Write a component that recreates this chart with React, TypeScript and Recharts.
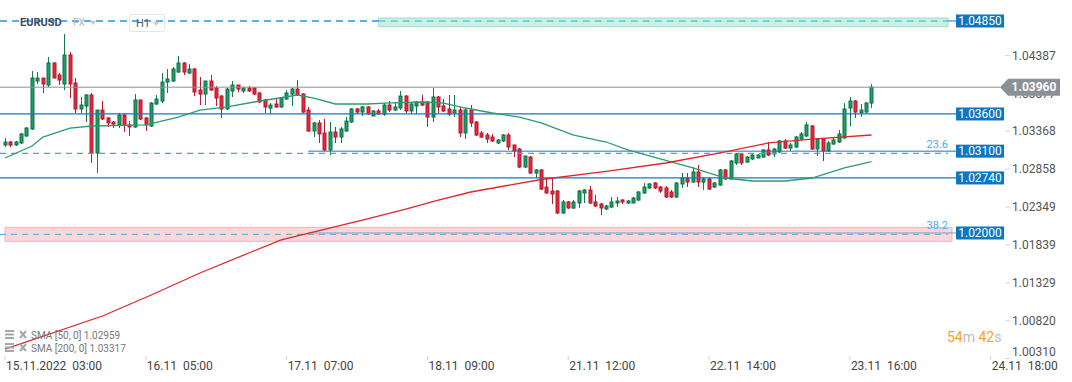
import React from 'react';
import { ComposedChart, Bar, Line, XAxis, YAxis, ReferenceLine, ReferenceArea } from 'recharts';

// ---- Candle data (EURUSD H1), index 0 = 15.11.2022 03:00 ----
const opens = [
  1.03183, 1.03223, 1.03183, 1.03210, 1.03304, 1.03398, 1.04043, 1.04083, 1.03989, 1.04285,
  1.04124, 1.04003, 1.04393, 1.04016, 1.03667, 1.03707, 1.03855, 1.03075, 1.03653, 1.03546,
  1.03492, 1.03452, 1.03586, 1.03452, 1.03425, 1.03788, 1.03546, 1.03438, 1.03734, 1.03774,
  1.04029, 1.04043, 1.04164, 1.04285, 1.04150, 1.04204, 1.03922, 1.03868, 1.04043, 1.03949,
  1.03841, 1.03667, 1.03909, 1.03989, 1.03909, 1.03949, 1.03949, 1.03882, 1.03788, 1.03680,
  1.03734, 1.03694, 1.03801, 1.03868, 1.03935, 1.03868, 1.03653, 1.03371, 1.03479, 1.03344,
  1.03116, 1.03357, 1.03290, 1.03371, 1.03492, 1.03667, 1.03626, 1.03694, 1.03573, 1.03640,
  1.03600, 1.03720, 1.03653, 1.03680, 1.03841, 1.03640, 1.03707, 1.03761, 1.03761, 1.03559,
  1.03828, 1.03707, 1.03667, 1.03613, 1.03653, 1.03344, 1.03653, 1.03492, 1.03344, 1.03317,
  1.03290, 1.03210, 1.03237, 1.03317, 1.03183, 1.03129, 1.02887, 1.03021, 1.02806, 1.02847,
  1.02618, 1.02564, 1.02564, 1.02269, 1.02417, 1.02336, 1.02403, 1.02538, 1.02578, 1.02417,
  1.02390, 1.02322, 1.02349, 1.02403, 1.02443, 1.02403, 1.02403, 1.02443, 1.02538, 1.02605,
  1.02672, 1.02618, 1.02605, 1.02551, 1.02484, 1.02659, 1.02739, 1.02685, 1.02820, 1.02685,
  1.02726, 1.02618, 1.02645, 1.02847, 1.02726, 1.02941, 1.03062, 1.02954, 1.02995, 1.03008,
  1.03021, 1.03116, 1.03062, 1.03089, 1.03237, 1.03142, 1.03156, 1.03263, 1.03304, 1.03438,
  1.03129, 1.03263, 1.03102, 1.03196, 1.03223, 1.03277, 1.03680, 1.03774, 1.03613, 1.03626,
  1.03747,
];
const highs = [
  1.03277, 1.03237, 1.03237, 1.03344, 1.03425, 1.04177, 1.04164, 1.04083, 1.04366, 1.04298,
  1.04150, 1.04675, 1.04433, 1.04083, 1.03828, 1.03868, 1.03882, 1.03653, 1.03774, 1.03559,
  1.03505, 1.03613, 1.03613, 1.03505, 1.03868, 1.03788, 1.03559, 1.03761, 1.03855, 1.04150,
  1.04204, 1.04231, 1.04379, 1.04298, 1.04272, 1.04218, 1.04097, 1.04043, 1.04124, 1.03976,
  1.03855, 1.03949, 1.04043, 1.03989, 1.03962, 1.03976, 1.03962, 1.03895, 1.03801, 1.03747,
  1.03814, 1.03828, 1.03922, 1.03949, 1.04056, 1.03882, 1.03694, 1.03492, 1.03519, 1.03532,
  1.03492, 1.03425, 1.03425, 1.03559, 1.03680, 1.03680, 1.03707, 1.03707, 1.03653, 1.03667,
  1.03747, 1.03774, 1.03761, 1.03909, 1.03855, 1.03761, 1.03774, 1.03855, 1.03774, 1.03949,
  1.03841, 1.03801, 1.03855, 1.03855, 1.03694, 1.03680, 1.03720, 1.03505, 1.03371, 1.03344,
  1.03331, 1.03263, 1.03331, 1.03344, 1.03183, 1.03142, 1.03035, 1.03035, 1.02860, 1.02860,
  1.02739, 1.02739, 1.02578, 1.02443, 1.02430, 1.02443, 1.02578, 1.02591, 1.02632, 1.02511,
  1.02403, 1.02376, 1.02484, 1.02484, 1.02457, 1.02443, 1.02484, 1.02564, 1.02672, 1.02672,
  1.02685, 1.02632, 1.02632, 1.02578, 1.02685, 1.02806, 1.02806, 1.02887, 1.02914, 1.02753,
  1.02753, 1.02685, 1.02860, 1.02860, 1.02981, 1.03075, 1.03075, 1.03035, 1.03062, 1.03062,
  1.03129, 1.03223, 1.03142, 1.03250, 1.03263, 1.03210, 1.03304, 1.03357, 1.03492, 1.03452,
  1.03277, 1.03277, 1.03237, 1.03290, 1.03384, 1.03747, 1.03828, 1.03788, 1.03734, 1.03761,
  1.04003,
];
const lows = [
  1.03156, 1.03156, 1.03169, 1.03196, 1.03290, 1.03384, 1.04003, 1.03882, 1.03962, 1.04083,
  1.03989, 1.03922, 1.03814, 1.03613, 1.03613, 1.03492, 1.02941, 1.02806, 1.03519, 1.03425,
  1.03411, 1.03411, 1.03357, 1.03304, 1.03411, 1.03519, 1.03371, 1.03425, 1.03720, 1.03747,
  1.03882, 1.04029, 1.04150, 1.04124, 1.04137, 1.03841, 1.03720, 1.03720, 1.03909, 1.03707,
  1.03546, 1.03653, 1.03828, 1.03895, 1.03882, 1.03895, 1.03855, 1.03747, 1.03613, 1.03600,
  1.03680, 1.03680, 1.03788, 1.03707, 1.03841, 1.03613, 1.03357, 1.03290, 1.03210, 1.03102,
  1.03048, 1.03210, 1.03210, 1.03357, 1.03479, 1.03600, 1.03573, 1.03586, 1.03573, 1.03586,
  1.03573, 1.03626, 1.03640, 1.03653, 1.03613, 1.03600, 1.03600, 1.03707, 1.03425, 1.03492,
  1.03613, 1.03626, 1.03573, 1.03559, 1.03290, 1.03263, 1.03425, 1.03304, 1.03277, 1.03210,
  1.03223, 1.03196, 1.03223, 1.03116, 1.03021, 1.02874, 1.02874, 1.02793, 1.02739, 1.02578,
  1.02524, 1.02390, 1.02255, 1.02255, 1.02322, 1.02322, 1.02336, 1.02403, 1.02390, 1.02349,
  1.02242, 1.02309, 1.02336, 1.02349, 1.02390, 1.02390, 1.02403, 1.02430, 1.02524, 1.02591,
  1.02591, 1.02538, 1.02470, 1.02470, 1.02470, 1.02605, 1.02618, 1.02672, 1.02618, 1.02578,
  1.02578, 1.02605, 1.02632, 1.02712, 1.02712, 1.02914, 1.02914, 1.02941, 1.02981, 1.03008,
  1.03008, 1.03035, 1.03021, 1.03075, 1.03129, 1.03102, 1.03142, 1.03237, 1.03290, 1.03116,
  1.03035, 1.02968, 1.03089, 1.03183, 1.03210, 1.03263, 1.03438, 1.03546, 1.03559, 1.03613,
  1.03680,
];
const closes = [
  1.03223, 1.03183, 1.03223, 1.03331, 1.03411, 1.04083, 1.04083, 1.04003, 1.04285, 1.04083,
  1.04056, 1.04393, 1.04003, 1.03667, 1.03720, 1.03855, 1.03075, 1.03653, 1.03532, 1.03479,
  1.03465, 1.03586, 1.03452, 1.03425, 1.03788, 1.03532, 1.03452, 1.03747, 1.03801, 1.04029,
  1.04070, 1.04204, 1.04285, 1.04164, 1.04204, 1.03895, 1.03868, 1.04043, 1.03922, 1.03814,
  1.03667, 1.03935, 1.03989, 1.03935, 1.03949, 1.03909, 1.03868, 1.03761, 1.03694, 1.03720,
  1.03694, 1.03814, 1.03882, 1.03935, 1.03855, 1.03626, 1.03371, 1.03479, 1.03331, 1.03116,
  1.03357, 1.03290, 1.03398, 1.03505, 1.03667, 1.03626, 1.03694, 1.03600, 1.03640, 1.03600,
  1.03720, 1.03653, 1.03694, 1.03841, 1.03640, 1.03734, 1.03761, 1.03720, 1.03559, 1.03828,
  1.03694, 1.03640, 1.03600, 1.03653, 1.03344, 1.03653, 1.03479, 1.03317, 1.03290, 1.03263,
  1.03237, 1.03250, 1.03317, 1.03156, 1.03102, 1.02887, 1.03035, 1.02806, 1.02847, 1.02591,
  1.02538, 1.02524, 1.02269, 1.02417, 1.02336, 1.02417, 1.02564, 1.02578, 1.02403, 1.02363,
  1.02336, 1.02363, 1.02417, 1.02430, 1.02417, 1.02430, 1.02470, 1.02551, 1.02618, 1.02659,
  1.02605, 1.02564, 1.02484, 1.02484, 1.02672, 1.02739, 1.02685, 1.02820, 1.02685, 1.02726,
  1.02591, 1.02672, 1.02847, 1.02726, 1.02968, 1.03062, 1.02941, 1.03021, 1.03048, 1.03048,
  1.03116, 1.03048, 1.03129, 1.03237, 1.03142, 1.03183, 1.03290, 1.03331, 1.03452, 1.03129,
  1.03263, 1.03102, 1.03210, 1.03250, 1.03331, 1.03667, 1.03774, 1.03626, 1.03653, 1.03747,
  1.03960,
];

// ---- Moving averages (read at sample candles) ----
const sma50Idx = [0, 5, 7, 12, 16, 26, 32, 36, 41, 46, 54, 57, 61, 67, 70, 77, 81, 85, 90, 95, 99, 105, 111, 115, 121, 127, 133, 138, 144, 149, 155, 160];
const sma50Val = [1.03008, 1.03169, 1.03290, 1.03411, 1.03438, 1.03452, 1.03559, 1.03653, 1.03694, 1.03761, 1.03855, 1.03814, 1.03734, 1.03734, 1.03747, 1.03761, 1.03747, 1.03680, 1.03613, 1.03559, 1.03479, 1.03317, 1.03223, 1.03116, 1.02995, 1.02874, 1.02739, 1.02699, 1.02699, 1.02739, 1.02874, 1.02959];
const sma200Idx = [0, 18, 27, 36, 45, 51, 66, 74, 80, 86, 99, 111, 122, 133, 141, 149, 160];
const sma200Val = [1.00440, 1.00884, 1.01166, 1.01462, 1.01731, 1.01906, 1.02174, 1.02322, 1.02443, 1.02551, 1.02719, 1.02827, 1.02941, 1.03089, 1.03210, 1.03263, 1.03317];

// ---- Axis ticks ----
const xTickIdx = [0, 26, 52, 78, 104, 130, 156, 182];
const xTickLabels = ['15.11.2022  03:00', '16.11  05:00', '17.11  07:00', '18.11  09:00', '21.11  12:00', '22.11  14:00', '23.11  16:00', '24.11  18:00'];
const yTicks = [1.04387, 1.038775, 1.03368, 1.02858, 1.02349, 1.01839, 1.01329, 1.0082, 1.0031];
const yTickLabels = ['1.04387', '1.03877', '1.03368', '1.02858', '1.02349', '1.01839', '1.01329', '1.00820', '1.00310'];

// ---- Levels & zones ----
const X_MIN = -0.923;
const X_MAX = 184.64;
const Y_MIN = 1.00306;
const Y_MAX = 1.05132;
const lineEnd = 175.6;
const zoneEnd = 174.1;
const lastPrice = 1.0396;
const lastPriceText = '1.03960';
const lastPriceEnd = 183.7;
const resistanceTop = 1.0485;
const mintZone = { x1: 69, x2: 174.1, y1: 1.04773, y2: 1.0489 };
const pinkZone = { x1: 0, x2: 174.85, y1: 1.01888, y2: 1.02076 };
const fibLevels = [1.03071, 1.01982];
const fibTexts = ['23.6', '38.2'];

const data = opens.map((o, i) => ({
  i,
  open: o,
  high: highs[i],
  low: lows[i],
  close: closes[i],
  sma50: null as number | null,
  sma200: null as number | null,
}));
sma50Idx.forEach((k, j) => { data[k].sma50 = sma50Val[j]; });
sma200Idx.forEach((k, j) => { data[k].sma200 = sma200Val[j]; });

const FONT = 'Roboto, "Noto Sans", sans-serif';

const Candle = (props: any) => {
  const { x, y, width, height, payload } = props;
  if (!payload || x == null) return null;
  let top = y;
  let h = height;
  if (h < 0) { top = y + h; h = -h; }
  const { open, close, high, low } = payload;
  const range = high - low;
  const py = (v: number) => (range > 0 ? top + ((high - v) / range) * h : top);
  const cx = Math.round(x + width / 2) + 0.5;
  const up = close >= open;
  const bt = py(Math.max(open, close));
  const bb = py(Math.min(open, close));
  const bh = Math.max(bb - bt, 1);
  return (
    <g>
      <line x1={cx} x2={cx} y1={top} y2={top + Math.max(h, 1)} stroke={up ? '#137a4f' : '#b51d30'} strokeWidth={1} />
      <rect x={cx - 1.5} y={bt} width={3} height={bh} fill={up ? '#1f9d67' : '#e2293d'} stroke={up ? '#0f7046' : '#b01a2c'} strokeWidth={1} />
    </g>
  );
};

const PriceTag = (props: any) => {
  const { viewBox, text } = props;
  if (!viewBox) return null;
  const xr = viewBox.x + viewBox.width;
  const y = viewBox.y;
  return (
    <g>
      <rect x={xr} y={y - 6.5} width={48} height={13} fill="#0a77c2" />
      <text x={xr + 24} y={y} dy={4.2} textAnchor="middle" fill="#ffffff" fontSize={12} fontFamily={FONT}>{text}</text>
    </g>
  );
};

const FibText = (props: any) => {
  const { viewBox, text } = props;
  if (!viewBox) return null;
  return (
    <text x={viewBox.x + viewBox.width} y={viewBox.y - 5} textAnchor="end" fill="#4aaef0" fontSize={11} fontFamily={FONT}>{text}</text>
  );
};

const XTick = (props: any) => {
  const { x, y, payload } = props;
  const k = xTickIdx.indexOf(payload.value);
  return (
    <g>
      <line x1={x} x2={x} y1={y - 3} y2={y + 1} stroke="#cfd3d6" />
      <text x={x + 1} y={y + 11} fill="#444" fontSize={12} fontFamily={FONT} style={{ whiteSpace: 'pre' }}>{xTickLabels[k]}</text>
    </g>
  );
};

// Price-scale ticks; the last tick in the list is the current price, drawn as a marker on top of the scale
const YTick = (props: any) => {
  const { x, y, payload } = props;
  if (payload.value === lastPrice) {
    const xr = x - 5;
    const pts = `${xr},${y} ${xr + 8},${y - 8.5} ${xr + 60},${y - 8.5} ${xr + 60},${y + 8.5} ${xr + 8},${y + 8.5}`;
    return (
      <g>
        <polygon points={pts} fill="#8b9297" />
        <text x={xr + 34} y={y} dy={4.3} textAnchor="middle" fill="#ffffff" fontSize={12} fontWeight={700} fontFamily={FONT}>{lastPriceText}</text>
      </g>
    );
  }
  const k = yTicks.indexOf(payload.value);
  const last = k === yTicks.length - 1;
  return (
    <g>
      <line x1={x} x2={x + 5} y1={y} y2={y} stroke="#d5d8db" />
      <text x={x + 7} y={y} dy={last ? -2.5 : 4.2} fill="#555" fontSize={12} fontFamily={FONT}>{yTickLabels[k]}</text>
    </g>
  );
};

const seg = (a: number, b: number, v: number) => [{ x: a, y: v }, { x: b, y: v }] as any;

const Tri = ({ left, top }: { left: number; top: number }) => (
  <div style={{ position: 'absolute', left, top, width: 0, height: 0, borderLeft: '3px solid transparent', borderRight: '3px solid transparent', borderTop: '4px solid #c3c9cf' }} />
);

const LegendIcon = ({ top }: { top: number }) => (
  <svg style={{ position: 'absolute', left: 5, top }} width={24} height={10}>
    <rect x={0} y={0} width={9} height={2} fill="#a3a8ad" />
    <rect x={0} y={3.5} width={9} height={2} fill="#a3a8ad" />
    <rect x={0} y={7} width={9} height={2} fill="#a3a8ad" />
    <line x1={15} y1={1} x2={21} y2={8} stroke="#a3a8ad" strokeWidth={2} />
    <line x1={21} y1={1} x2={15} y2={8} stroke="#a3a8ad" strokeWidth={2} />
  </svg>
);

export default function App() {
  return (
    <div style={{ position: 'absolute', left: 0, top: 0, width: 1072, height: 382, background: '#fff', overflow: 'hidden', fontFamily: FONT }}>
      <ComposedChart width={1072} height={382} data={data} margin={{ top: 0, right: 0, bottom: 0, left: 0 }}>
        <XAxis
          dataKey="i"
          type="number"
          domain={[X_MIN, X_MAX]}
          allowDataOverflow
          ticks={xTickIdx}
          interval={0}
          height={23}
          axisLine={false}
          tickLine={false}
          tickSize={0}
          tickMargin={0}
          tick={<XTick />}
        />
        <YAxis
          orientation="right"
          type="number"
          domain={[Y_MIN, Y_MAX]}
          allowDataOverflow
          ticks={[...yTicks, lastPrice]}
          interval={0}
          width={67}
          axisLine={false}
          tickLine={false}
          tickSize={0}
          tickMargin={0}
          tick={<YTick />}
        />
        <ReferenceArea x1={pinkZone.x1} x2={pinkZone.x2} y1={pinkZone.y1} y2={pinkZone.y2} fill="#fcd6d9" fillOpacity={1} stroke="#f4b3b9" strokeWidth={1} ifOverflow="visible" />
        <ReferenceArea x1={mintZone.x1} x2={mintZone.x2} y1={mintZone.y1} y2={mintZone.y2} fill="#c9f2e4" fillOpacity={1} stroke="#98dfc8" strokeWidth={1} ifOverflow="visible" />

        <ReferenceLine segment={seg(X_MIN, mintZone.x1, resistanceTop)} stroke="#1e96e6" strokeWidth={1.3} strokeDasharray="7 5" ifOverflow="visible" />
        <ReferenceLine segment={seg(mintZone.x1, zoneEnd, resistanceTop)} stroke="#5cc3de" strokeWidth={1.3} strokeDasharray="7 5" ifOverflow="visible" />
        <ReferenceLine segment={seg(zoneEnd, lineEnd, resistanceTop)} stroke="#1479c4" strokeWidth={1} ifOverflow="visible" label={<PriceTag text="1.04850" />} />

        <ReferenceLine segment={seg(X_MIN, lastPriceEnd, lastPrice)} stroke="#8c8f92" strokeWidth={1} ifOverflow="visible" />
        <ReferenceLine segment={seg(X_MIN, lineEnd, 1.036)} stroke="#1479c4" strokeWidth={1.2} ifOverflow="visible" label={<PriceTag text="1.03600" />} />
        <ReferenceLine segment={seg(X_MIN, zoneEnd, fibLevels[0])} stroke="#3ea6ec" strokeWidth={1.2} strokeDasharray="6 5" ifOverflow="visible" label={<FibText text={fibTexts[0]} />} />
        <ReferenceLine segment={seg(56, lineEnd, 1.031)} stroke="#1479c4" strokeWidth={1} ifOverflow="visible" label={<PriceTag text="1.03100" />} />
        <ReferenceLine segment={seg(X_MIN, lineEnd, 1.0274)} stroke="#1479c4" strokeWidth={1.2} ifOverflow="visible" label={<PriceTag text="1.02740" />} />
        <ReferenceLine segment={seg(X_MIN, zoneEnd, fibLevels[1])} stroke="#6aaee6" strokeWidth={1.2} strokeDasharray="6 5" ifOverflow="visible" label={<FibText text={fibTexts[1]} />} />
        <ReferenceLine segment={seg(56, lineEnd, 1.02)} stroke="#7d9fc4" strokeWidth={1} ifOverflow="visible" label={<PriceTag text="1.02000" />} />

        <Bar dataKey={(d: any) => [d.low, d.high]} barSize={5} isAnimationActive={false} shape={(p: any) => <Candle {...p} />} />
        <Line dataKey="sma50" type="linear" stroke="#2f9b6c" strokeWidth={1.3} dot={false} activeDot={false} connectNulls isAnimationActive={false} />
        <Line dataKey="sma200" type="linear" stroke="#e0262c" strokeWidth={1.3} dot={false} activeDot={false} connectNulls isAnimationActive={false} />
      </ComposedChart>

      {/* header */}
      <div style={{ position: 'absolute', left: 20, top: 16, fontSize: 11, lineHeight: '13px', fontWeight: 700, color: '#3c4a59' }}>EURUSD</div>
      <div style={{ position: 'absolute', left: 73, top: 17, fontSize: 10, lineHeight: '12px', color: '#aeb6be' }}>FX</div>
      <Tri left={90} top={21} />
      <div style={{ position: 'absolute', left: 129, top: 14, width: 34, height: 16, border: '1px solid #e1e5e9', borderRadius: 3 }}>
        <div style={{ position: 'absolute', left: 6, top: 2, fontSize: 11, lineHeight: '13px', color: '#4d5a66' }}>H1</div>
        <Tri left={23} top={7} />
      </div>

      {/* legend */}
      <LegendIcon top={330} />
      <div style={{ position: 'absolute', left: 31, top: 330, fontSize: 10, lineHeight: '12px', color: '#777' }}>SMA [50, 0] 1.02959</div>
      <LegendIcon top={343} />
      <div style={{ position: 'absolute', left: 31, top: 343, fontSize: 10, lineHeight: '12px', color: '#777' }}>SMA [200, 0] 1.03317</div>

      {/* countdown */}
      <div style={{ position: 'absolute', left: 947, top: 329, fontSize: 14, lineHeight: '16px', whiteSpace: 'pre' }}>
        <span style={{ color: '#f7a21b' }}>54</span>
        <span style={{ color: '#b8bcc0' }}>m </span>
        <span style={{ color: '#f7a21b' }}>42</span>
        <span style={{ color: '#b8bcc0' }}>s</span>
      </div>
    </div>
  );
}
